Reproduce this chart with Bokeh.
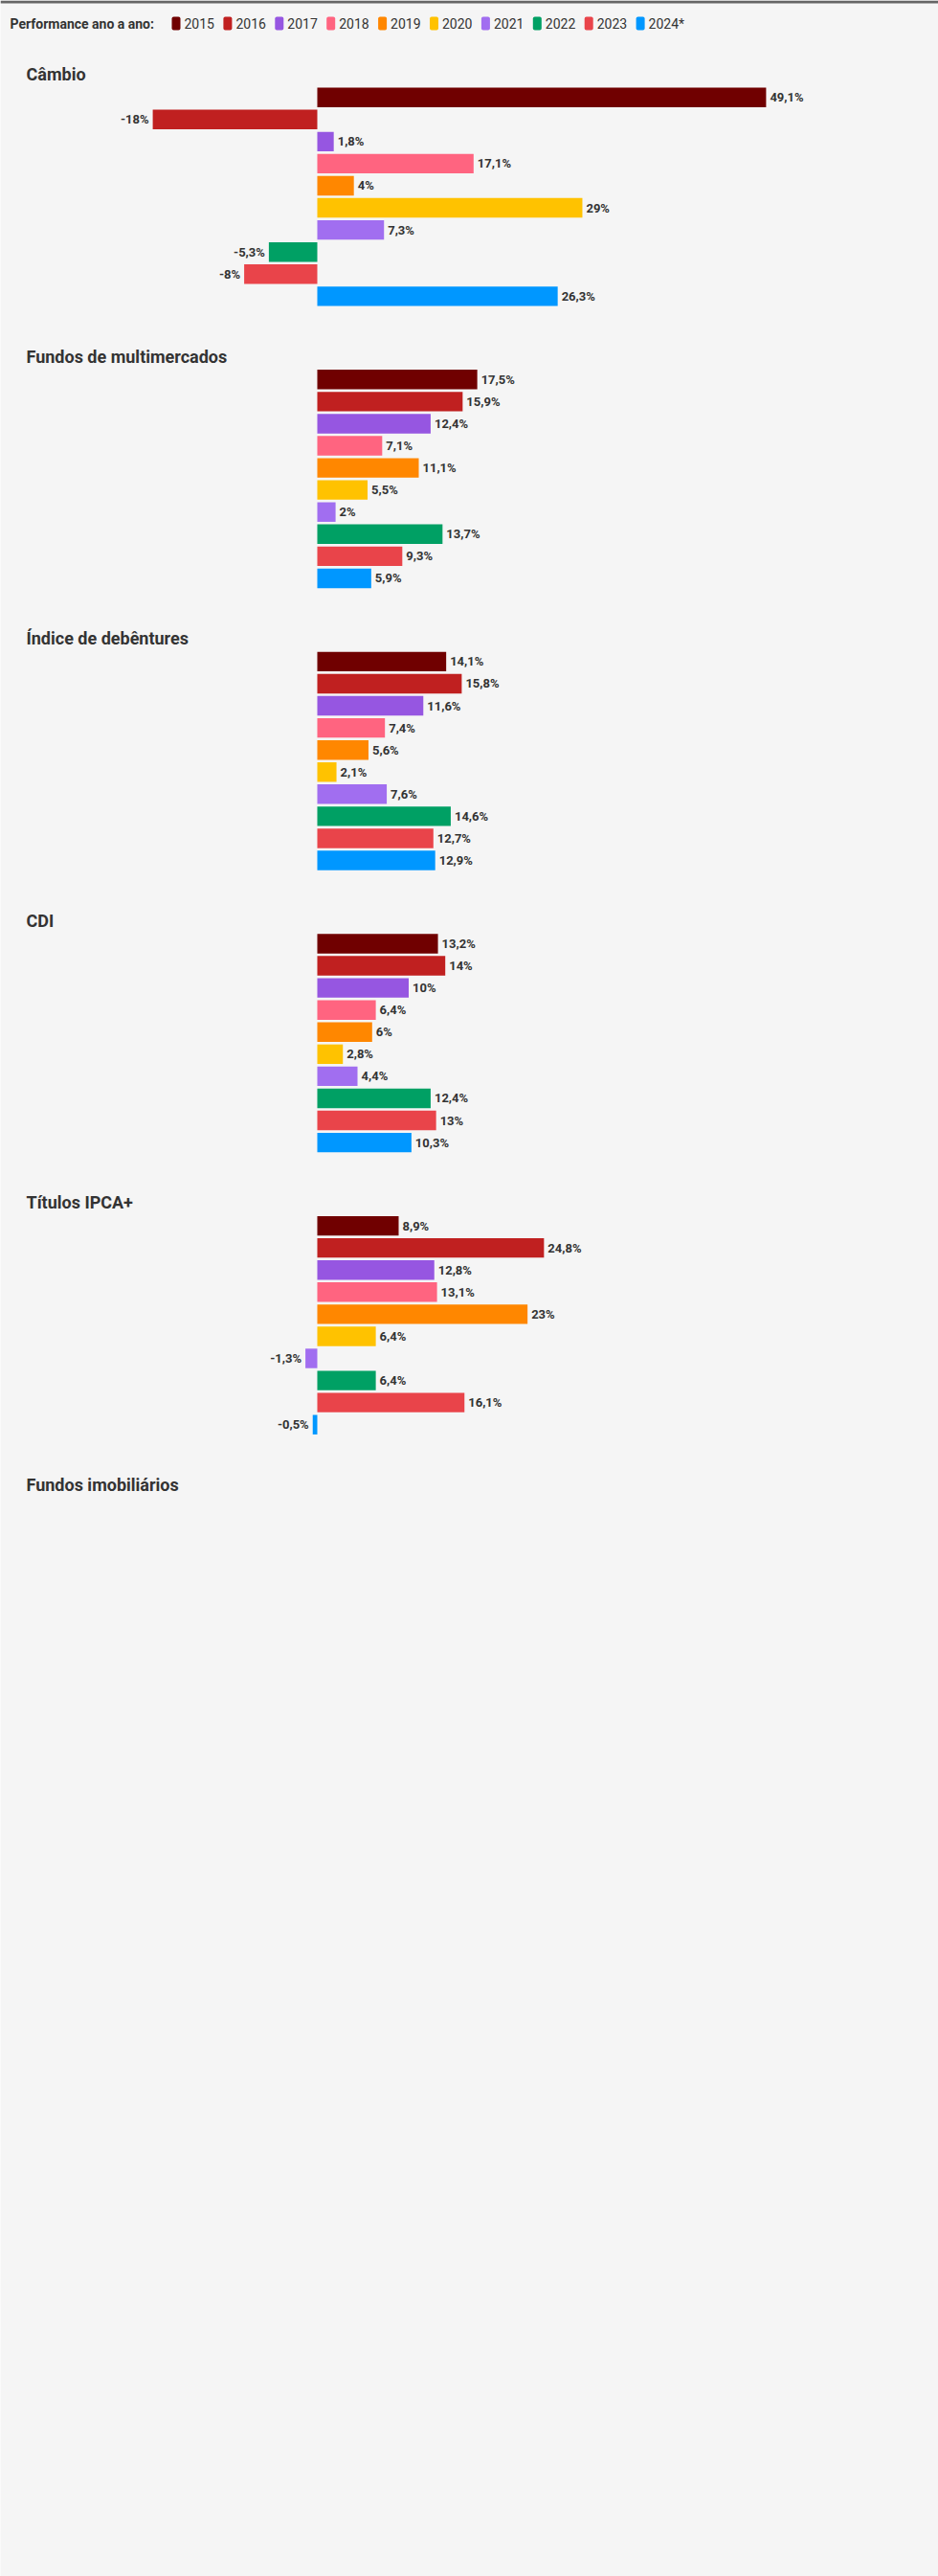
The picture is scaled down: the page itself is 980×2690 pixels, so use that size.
import re
from bokeh.plotting import figure
from bokeh.models import Range1d, BoxAnnotation, ColumnDataSource
from bokeh.core.properties import value
from bokeh.embed import file_html
from bokeh.resources import INLINE

# ---------------- data ----------------
years = ["2015", "2016", "2017", "2018", "2019", "2020", "2021", "2022", "2023", "2024*"]
colors = ["#700000", "#c02020", "#9656e1", "#ff6480", "#ff8700",
          "#ffc200", "#a16ef0", "#00a064", "#e9444a", "#0097ff"]

sections = ["Câmbio", "Fundos de multimercados", "Índice de debêntures", "CDI",
            "Títulos IPCA+", "Fundos imobiliários"]
cambio = [49.1, -18, 1.8, 17.1, 4, 29, 7.3, -5.3, -8, 26.3]
multimercados = [17.5, 15.9, 12.4, 7.1, 11.1, 5.5, 2, 13.7, 9.3, 5.9]
debentures = [14.1, 15.8, 11.6, 7.4, 5.6, 2.1, 7.6, 14.6, 12.7, 12.9]
cdi = [13.2, 14, 10, 6.4, 6, 2.8, 4.4, 12.4, 13, 10.3]
ipca = [8.9, 24.8, 12.8, 13.1, 23, 6.4, -1.3, 6.4, 16.1, -0.5]
imobiliarios = []
series = [cambio, multimercados, debentures, cdi, ipca, imobiliarios]

# ---------------- style / layout constants ----------------
BG = "#f5f5f5"
TXT = "#333333"
W, H = 980, 2690
ZERO_PX = 331.0        # pixel position of 0 %
PX_PER_PCT = 9.55      # pixels per percentage point
ROW_PX = 23.07         # vertical step between bars
BAR_PX = 20.4          # bar thickness
SECTION_PX = 294.6     # distance between section titles
FIRST_TITLE_PX = 77    # y of first section title
BAR_OFFSET_PX = 14     # title centre -> first bar top
FONT = "Roboto"

x_start = -ZERO_PX / PX_PER_PCT
x_end = (W - ZERO_PX) / PX_PER_PCT


def px2x(px):
    return (px - ZERO_PX) / PX_PER_PCT


def fmt(v):
    if abs(v - round(v)) < 1e-9:
        s = "%d" % round(v)
    else:
        s = ("%.1f" % v).replace(".", ",")
    return s + "%"


p = figure(width=W, height=H, x_range=Range1d(x_start, x_end), y_range=Range1d(H, 0),
           output_backend="svg", toolbar_location=None,
           x_axis_type=None, y_axis_type=None, min_border=0,
           background_fill_color=BG, border_fill_color=BG,
           outline_line_color=None)
p.grid.visible = False

# top rule
p.add_layout(BoxAnnotation(left=x_start, right=x_end, top=0, bottom=3,
                           fill_color="#666666", fill_alpha=1, line_color=None))

# ---------------- legend ----------------
LEG_Y = 24
SW_X0, SW_STEP = 179, 53.9
p.text(x=[px2x(10)], y=[LEG_Y], text=["Performance ano a ano:"], text_font=value(FONT),
       text_font_size="14px", text_font_style="bold", text_color=TXT,
       text_baseline="middle", text_align="left")
for i, c in enumerate(colors):
    left = SW_X0 + i * SW_STEP
    p.add_layout(BoxAnnotation(left=px2x(left), right=px2x(left + 9),
                               top=LEG_Y - 7, bottom=LEG_Y + 7,
                               fill_color=c, fill_alpha=1, line_color=None,
                               border_radius=2))
leg_src = ColumnDataSource(dict(x=[px2x(SW_X0 + i * SW_STEP + 13) for i in range(len(years))],
                                y=[LEG_Y] * len(years), t=years))
p.text(x="x", y="y", text="t", source=leg_src, text_font=value(FONT),
       text_font_size="14px", text_color=TXT, text_baseline="middle",
       text_align="left")

# ---------------- sections ----------------
title_y = [FIRST_TITLE_PX + k * SECTION_PX for k in range(len(sections))]
p.text(x=[px2x(27)] * len(sections), y=title_y, text=sections, text_font=value(FONT),
       text_font_size="18px", text_font_style="bold", text_color=TXT,
       text_baseline="middle", text_align="left")

for ty, vals in zip(title_y, series):
    if not vals:
        continue
    n = len(vals)
    first_center = ty + BAR_OFFSET_PX + BAR_PX / 2
    src = ColumnDataSource(dict(
        y=[first_center + i * ROW_PX for i in range(n)], v=vals, zero=[0] * n,
        c=colors[:n], lab=[fmt(v) for v in vals],
        align=["left" if v >= 0 else "right" for v in vals],
        off=[4 if v >= 0 else -4 for v in vals]))
    p.hbar(y="y", left="zero", right="v", height=BAR_PX,
           fill_color="c", line_color=None, source=src)
    p.text(x="v", y="y", text="lab", x_offset="off", text_align="align",
           text_baseline="middle", text_font=value(FONT),
           text_font_size="13px", text_font_style="bold",
           text_color=TXT, source=src)

html = file_html(p, INLINE)
html = re.sub(r"<body([^>]*)>", r'<body\1 style="margin:0;background:#f5f5f5;">', html, count=1)
open("out.html", "w").write(html)
